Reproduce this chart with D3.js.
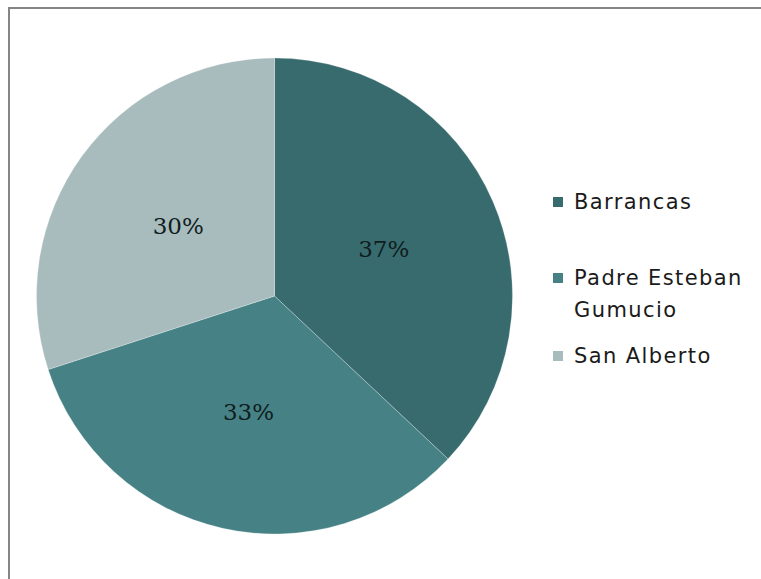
<!DOCTYPE html>
<html>
<head>
<meta charset="utf-8">
<script src="https://cdn.jsdelivr.net/npm/d3@7"></script>
<style>
  body { margin: 0; background: #fff; }
  svg { display: block; }
</style>
</head>
<body>
<svg width="761" height="579"></svg>
<script>
const width = 761;
const height = 579;

// data
const categories = ["Barrancas", "Padre Esteban Gumucio", "San Alberto"];
const values = [37, 33, 30];
const colors = ["#386b6e", "#468285", "#a9bcbd"];
const legendLines = [["Barrancas"], ["Padre Esteban", "Gumucio"], ["San Alberto"]];

const svg = d3.select("svg");

// frame (only top and left edges visible)
svg.append("rect")
    .attr("x", 9)
    .attr("y", 8)
    .attr("width", width + 20)
    .attr("height", height + 20)
    .attr("fill", "#fff")
    .attr("stroke", "#858585")
    .attr("stroke-width", 2);

//--------------------Pie--------------------
const cx = 274.5;
const cy = 296;
const r = 238;

const pie = d3.pie().sort(null).value(d => d);
const arcs = pie(values);
const arc = d3.arc().innerRadius(0).outerRadius(r);
const labelArc = d3.arc().innerRadius(r * 0.5).outerRadius(r * 0.5);

const g = svg.append("g").attr("transform", "translate(" + cx + "," + cy + ")");

g.selectAll("path")
    .data(arcs)
    .enter()
    .append("path")
    .attr("d", arc)
    .attr("fill", (d, i) => colors[i])
    .attr("stroke", "rgba(255,255,255,0.25)")
    .attr("stroke-width", 1);

g.selectAll("text")
    .data(arcs)
    .enter()
    .append("text")
    .attr("transform", d => "translate(" + labelArc.centroid(d) + ")")
    .attr("text-anchor", "middle")
    .attr("dy", "0.35em")
    .attr("font-family", "'DejaVu Serif', serif")
    .attr("font-size", 23)
    .attr("fill", "#0f1d1e")
    .text(d => d.data + "%");

//--------------------Legend--------------------
const legendY = [202, 278, 356];
const lineH = 32;

const leg = svg.append("g");
legendLines.forEach((lines, i) => {
    leg.append("rect")
        .attr("x", 553)
        .attr("y", legendY[i] - 5)
        .attr("width", 10)
        .attr("height", 10)
        .attr("fill", colors[i]);
    lines.forEach((t, j) => {
        leg.append("text")
            .attr("x", 574)
            .attr("y", legendY[i] + j * lineH)
            .attr("dy", "0.35em")
            .attr("font-family", "'DejaVu Sans', sans-serif")
            .attr("font-size", 21)
            .attr("letter-spacing", 1.4)
            .attr("fill", "#1a1a1a")
            .text(t);
    });
});
</script>
</body>
</html>
